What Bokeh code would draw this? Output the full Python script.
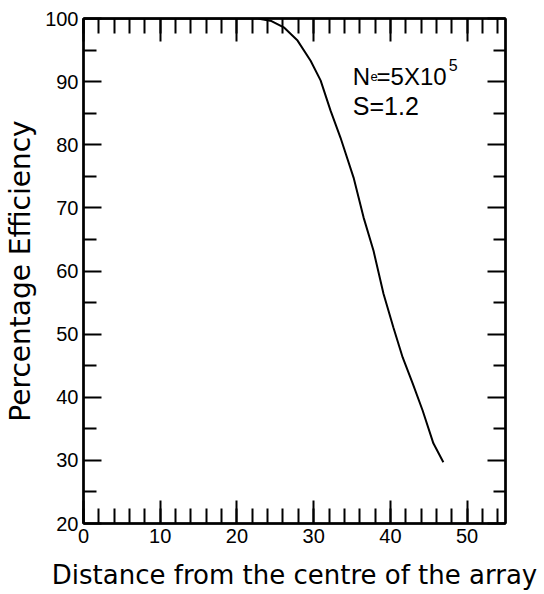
from bokeh.plotting import figure
from bokeh.models import Range1d, LinearAxis, FixedTicker, Label
from bokeh.embed import file_html
from bokeh.resources import INLINE

# Data
distance = [0, 5, 10, 15, 20, 22.7, 24.5, 26.1, 27.9, 29.6, 30.9, 32.2, 33.5, 35.2,
            36.5, 37.8, 39.1, 40.4, 41.6, 42.9, 44.2, 45.6, 46.9]
efficiency = [100, 100, 100, 100, 100, 100, 99.6, 98.6, 96.5, 93.3, 90.2, 85.4, 81.1, 74.8,
              68.5, 63.2, 56.4, 51.0, 46.3, 42.2, 37.9, 32.7, 29.7]

x_major = [0, 10, 20, 30, 40, 50]
x_minor = list(range(0, 56, 2))
y_major = [20, 30, 40, 50, 60, 70, 80, 90, 100]
y_minor = [25, 35, 45, 55, 65, 75, 85, 95]

x_title = "Distance from the centre of the array"
y_title = "Percentage Efficiency"

TICK_FONT = "Liberation Sans"
TITLE_FONT = "DejaVu Sans"

p = figure(width=544, height=594, output_backend="svg", toolbar_location=None,
           x_range=Range1d(0, 55), y_range=Range1d(20, 100),
           x_axis_location=None, y_axis_location=None,
           min_border_left=83, min_border_right=39, min_border_top=18, min_border_bottom=71)
p.xgrid.visible = False
p.ygrid.visible = False
p.outline_line_color = "black"
p.outline_line_width = 2
p.background_fill_color = "white"
p.border_fill_color = "white"

def style(ax, major_len, minor_len, labels=True):
    ax.axis_line_color = "black"
    ax.axis_line_width = 2.5
    ax.major_tick_line_color = "black"
    ax.major_tick_line_width = 2
    ax.minor_tick_line_color = "black"
    ax.minor_tick_line_width = 2
    ax.major_tick_in = major_len
    ax.major_tick_out = 0
    ax.minor_tick_in = minor_len
    ax.minor_tick_out = 0
    if labels:
        ax.major_label_text_font = TICK_FONT
        ax.major_label_text_font_size = "20px"
        ax.major_label_text_color = "black"
        ax.major_label_standoff = 5
    else:
        ax.major_label_text_font_size = "1px"
        ax.major_label_text_color = None
        ax.major_label_standoff = 0

bottom = LinearAxis(ticker=FixedTicker(ticks=x_major, minor_ticks=x_minor), axis_label=x_title)
style(bottom, 23, 15)
bottom.axis_label_text_font = TITLE_FONT
bottom.axis_label_text_font_size = "26px"
bottom.axis_label_text_font_style = "normal"
bottom.axis_label_text_color = "black"
bottom.axis_label_standoff = 14
p.add_layout(bottom, "below")

top = LinearAxis(ticker=FixedTicker(ticks=x_major, minor_ticks=x_minor))
style(top, 23, 15, labels=False)
p.add_layout(top, "above")

left = LinearAxis(ticker=FixedTicker(ticks=y_major, minor_ticks=y_minor), axis_label=y_title)
style(left, 18, 13)
left.axis_label_text_font = TITLE_FONT
left.axis_label_text_font_size = "28px"
left.axis_label_text_font_style = "normal"
left.axis_label_text_color = "black"
left.axis_label_standoff = 5
p.add_layout(left, "left")

right = LinearAxis(ticker=FixedTicker(ticks=y_major, minor_ticks=y_minor))
style(right, 18, 12, labels=False)
p.add_layout(right, "right")

p.line(distance, efficiency, line_color="black", line_width=2)

ann_font = "Liberation Sans"
def lab(x, y, t, size):
    p.add_layout(Label(x=x, y=y, text=t, text_font=ann_font, text_font_size=size,
                       text_baseline="alphabetic", text_align="left", text_color="black"))

lab(35.1, 90.8, "N", "24px")
lab(37.4, 90.8, "e", "13px")
lab(38.2, 90.8, "=5X10", "24px")
lab(47.6, 92.6, "5", "16px")
lab(35.1, 86.2, "S=1.2", "25px")

open("out.html", "w").write(file_html(p, INLINE))
